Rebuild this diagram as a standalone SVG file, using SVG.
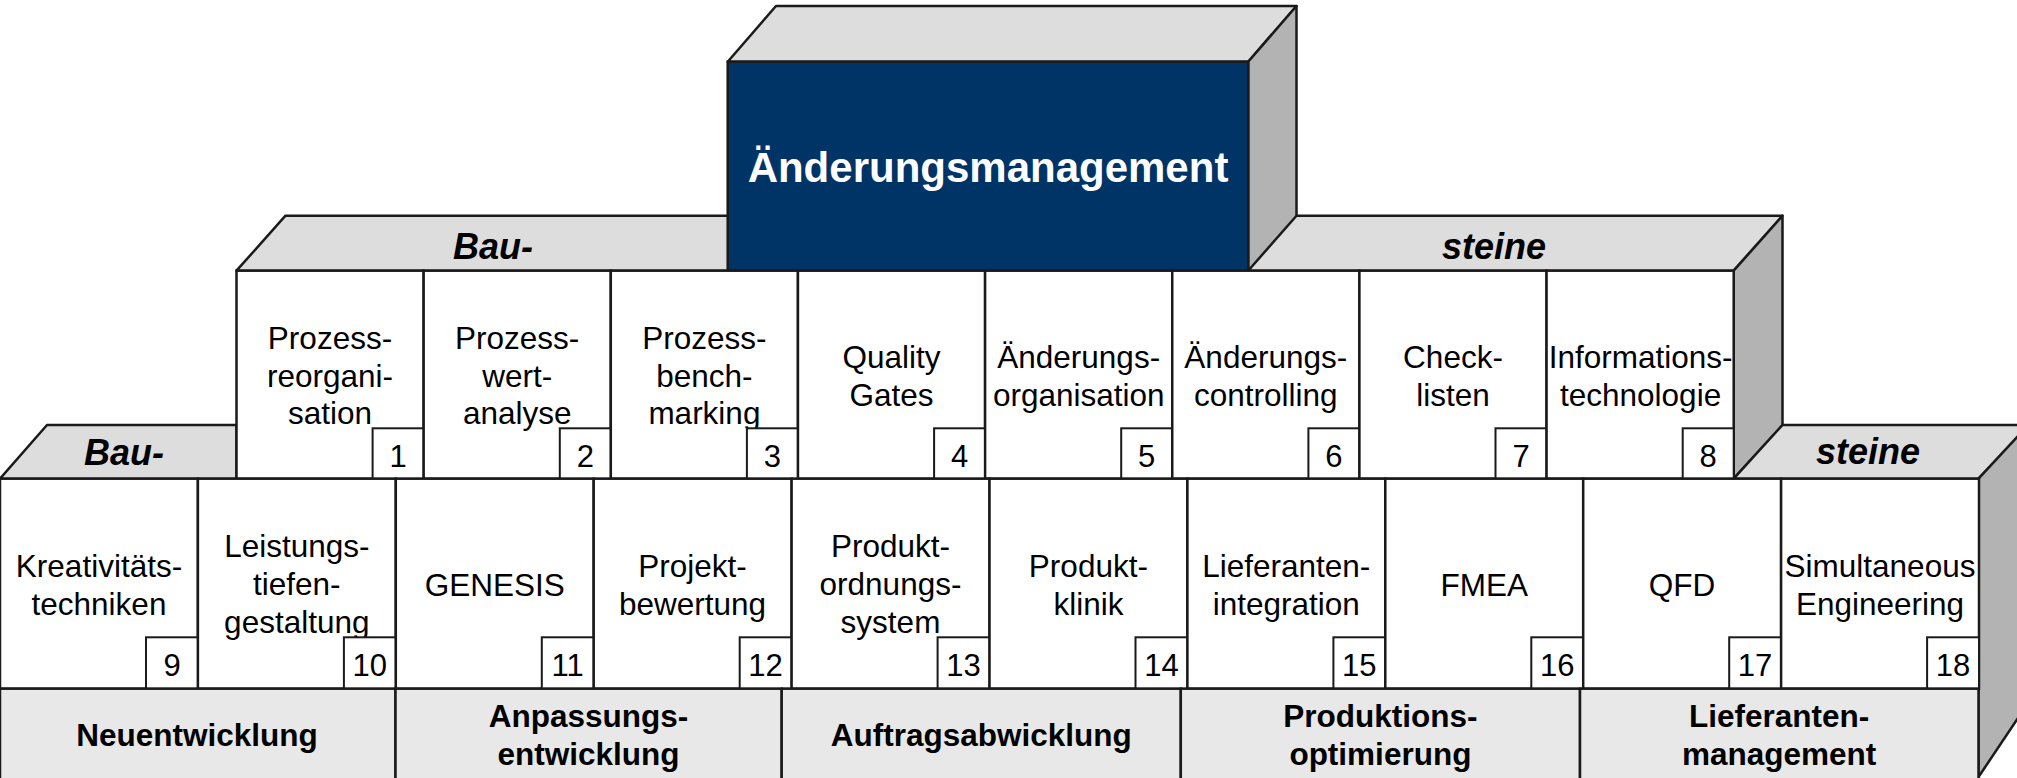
<svg xmlns="http://www.w3.org/2000/svg" width="2017" height="778" viewBox="0 0 2017 778">
<style>
.top{fill:#dddddd;stroke:#1a1a1a;stroke-width:2.5;stroke-linejoin:round}
.side{fill:#b3b3b3;stroke:#1a1a1a;stroke-width:2.5;stroke-linejoin:round}
.cell{fill:#ffffff;stroke:#1a1a1a;stroke-width:2.5}
.num{fill:#ffffff;stroke:#1a1a1a;stroke-width:2}
.base{fill:#e8e8e8;stroke:#1a1a1a;stroke-width:2.5}
.t{font-family:"Liberation Sans",Arial,sans-serif;font-size:31.5px;fill:#000;text-anchor:middle}
.n{font-family:"Liberation Sans",Arial,sans-serif;font-size:31px;fill:#000;text-anchor:middle}
.b{font-family:"Liberation Sans",Arial,sans-serif;font-size:31.5px;font-weight:bold;fill:#000;text-anchor:middle}
.bi{font-family:"Liberation Sans",Arial,sans-serif;font-size:36px;font-weight:bold;font-style:italic;fill:#000;text-anchor:middle}
.hd{font-family:"Liberation Sans",Arial,sans-serif;font-size:42px;font-weight:bold;fill:#ffffff;text-anchor:middle}
</style>

<!-- faces -->
<g id="faces">
  <polygon class="top" points="236.5,270.7 285.5,215.7 1782.5,215.7 1733.7,270.7"/>
  <polygon class="side" points="1733.7,270.7 1782.5,215.7 1782.5,425 1733.7,478.7"/>
  <polygon class="top" points="0,478.7 47,425 236.5,425 236.5,478.7"/>
  <polygon class="top" points="1733.7,478.7 1782.5,425 2030,425 1978.5,478.7"/>
  <polygon class="side" points="1978.5,478.7 2030,423 2030,700 1978.5,777"/>
  <text class="bi" x="493" y="259">Bau-</text>
  <text class="bi" x="1494" y="259">steine</text>
  <text class="bi" x="124" y="465">Bau-</text>
  <text class="bi" x="1868" y="464">steine</text>
</g>

<!-- top block -->
<g id="aenderungsmanagement">
  <polygon class="top" points="727.7,61.7 776,6 1296.5,6 1248.2,61.7"/>
  <polygon class="side" points="1248.2,61.7 1296.5,6 1296.5,215.7 1248.2,270.7"/>
  <rect x="727.7" y="61.7" width="520.5" height="209" fill="#003366" stroke="#1a1a1a" stroke-width="2.5"/>
  <text class="hd" x="988" y="182.3">Änderungsmanagement</text>
</g>

<!-- row 1 -->
<g id="b1"><rect class="cell" x="236.5" y="270.7" width="187.15" height="208"/>
  <text class="t" x="330" y="348.5">Prozess-</text><text class="t" x="330" y="386.5">reorgani-</text><text class="t" x="330" y="424">sation</text>
  <rect class="num" x="372.6" y="428.3" width="51" height="50.4"/><text class="n" x="398.1" y="467">1</text></g>
<g id="b2"><rect class="cell" x="423.65" y="270.7" width="187.15" height="208"/>
  <text class="t" x="517.2" y="348.5">Prozess-</text><text class="t" x="517.2" y="386.5">wert-</text><text class="t" x="517.2" y="424">analyse</text>
  <rect class="num" x="559.8" y="428.3" width="51" height="50.4"/><text class="n" x="585.3" y="467">2</text></g>
<g id="b3"><rect class="cell" x="610.8" y="270.7" width="187.15" height="208"/>
  <text class="t" x="704.4" y="348.5">Prozess-</text><text class="t" x="704.4" y="386.5">bench-</text><text class="t" x="704.4" y="424">marking</text>
  <rect class="num" x="746.9" y="428.3" width="51" height="50.4"/><text class="n" x="772.4" y="467">3</text></g>
<g id="b4"><rect class="cell" x="797.95" y="270.7" width="187.15" height="208"/>
  <text class="t" x="891.5" y="367.5">Quality</text><text class="t" x="891.5" y="405.5">Gates</text>
  <rect class="num" x="934.1" y="428.3" width="51" height="50.4"/><text class="n" x="959.6" y="467">4</text></g>
<g id="b5"><rect class="cell" x="985.1" y="270.7" width="187.15" height="208"/>
  <text class="t" x="1078.7" y="367.5">Änderungs-</text><text class="t" x="1078.7" y="405.5">organisation</text>
  <rect class="num" x="1121.2" y="428.3" width="51" height="50.4"/><text class="n" x="1146.7" y="467">5</text></g>
<g id="b6"><rect class="cell" x="1172.25" y="270.7" width="187.15" height="208"/>
  <text class="t" x="1265.8" y="367.5">Änderungs-</text><text class="t" x="1265.8" y="405.5">controlling</text>
  <rect class="num" x="1308.4" y="428.3" width="51" height="50.4"/><text class="n" x="1333.9" y="467">6</text></g>
<g id="b7"><rect class="cell" x="1359.4" y="270.7" width="187.15" height="208"/>
  <text class="t" x="1453" y="367.5">Check-</text><text class="t" x="1453" y="405.5">listen</text>
  <rect class="num" x="1495.5" y="428.3" width="51" height="50.4"/><text class="n" x="1521" y="467">7</text></g>
<g id="b8"><rect class="cell" x="1546.55" y="270.7" width="187.15" height="208"/>
  <text class="t" x="1640.6" y="367.5">Informations-</text><text class="t" x="1640.6" y="405.5">technologie</text>
  <rect class="num" x="1682.7" y="428.3" width="51" height="50.4"/><text class="n" x="1708.2" y="467">8</text></g>

<!-- row 2 -->
<g id="b9"><rect class="cell" x="0" y="478.7" width="197.9" height="210"/>
  <text class="t" x="99" y="577">Kreativitäts-</text><text class="t" x="99" y="615">techniken</text>
  <rect class="num" x="146" y="637.3" width="51.9" height="51.4"/><text class="n" x="172" y="676">9</text></g>
<g id="b10"><rect class="cell" x="197.9" y="478.7" width="197.9" height="210"/>
  <text class="t" x="296.8" y="557">Leistungs-</text><text class="t" x="296.8" y="595">tiefen-</text><text class="t" x="296.8" y="633">gestaltung</text>
  <rect class="num" x="343.9" y="637.3" width="51.9" height="51.4"/><text class="n" x="369.8" y="676">10</text></g>
<g id="b11"><rect class="cell" x="395.8" y="478.7" width="197.9" height="210"/>
  <text class="t" x="494.7" y="596">GENESIS</text>
  <rect class="num" x="541.8" y="637.3" width="51.9" height="51.4"/><text class="n" x="567.7" y="676">11</text></g>
<g id="b12"><rect class="cell" x="593.7" y="478.7" width="197.9" height="210"/>
  <text class="t" x="692.6" y="577">Projekt-</text><text class="t" x="692.6" y="615">bewertung</text>
  <rect class="num" x="739.7" y="637.3" width="51.9" height="51.4"/><text class="n" x="765.6" y="676">12</text></g>
<g id="b13"><rect class="cell" x="791.6" y="478.7" width="197.9" height="210"/>
  <text class="t" x="890.5" y="557">Produkt-</text><text class="t" x="890.5" y="595">ordnungs-</text><text class="t" x="890.5" y="633">system</text>
  <rect class="num" x="937.6" y="637.3" width="51.9" height="51.4"/><text class="n" x="963.5" y="676">13</text></g>
<g id="b14"><rect class="cell" x="989.5" y="478.7" width="197.9" height="210"/>
  <text class="t" x="1088.4" y="577">Produkt-</text><text class="t" x="1088.4" y="615">klinik</text>
  <rect class="num" x="1135.5" y="637.3" width="51.9" height="51.4"/><text class="n" x="1161.4" y="676">14</text></g>
<g id="b15"><rect class="cell" x="1187.4" y="478.7" width="197.9" height="210"/>
  <text class="t" x="1286.3" y="577">Lieferanten-</text><text class="t" x="1286.3" y="615">integration</text>
  <rect class="num" x="1333.4" y="637.3" width="51.9" height="51.4"/><text class="n" x="1359.3" y="676">15</text></g>
<g id="b16"><rect class="cell" x="1385.3" y="478.7" width="197.9" height="210"/>
  <text class="t" x="1484.2" y="596">FMEA</text>
  <rect class="num" x="1531.3" y="637.3" width="51.9" height="51.4"/><text class="n" x="1557.2" y="676">16</text></g>
<g id="b17"><rect class="cell" x="1583.2" y="478.7" width="197.9" height="210"/>
  <text class="t" x="1682.1" y="596">QFD</text>
  <rect class="num" x="1729.2" y="637.3" width="51.9" height="51.4"/><text class="n" x="1755.1" y="676">17</text></g>
<g id="b18"><rect class="cell" x="1781.1" y="478.7" width="197.9" height="210"/>
  <text class="t" x="1880" y="577">Simultaneous</text><text class="t" x="1880" y="615">Engineering</text>
  <rect class="num" x="1927.1" y="637.3" width="51.9" height="51.4"/><text class="n" x="1953" y="676">18</text></g>

<!-- base -->
<g id="neuentwicklung"><rect class="base" x="0" y="688.7" width="395.5" height="92"/>
  <text class="b" x="197" y="746">Neuentwicklung</text></g>
<g id="anpassungsentwicklung"><rect class="base" x="395.5" y="688.7" width="386.2" height="92"/>
  <text class="b" x="588.6" y="727">Anpassungs-</text><text class="b" x="588.6" y="765">entwicklung</text></g>
<g id="auftragsabwicklung"><rect class="base" x="781.7" y="688.7" width="399.1" height="92"/>
  <text class="b" x="981.2" y="746">Auftragsabwicklung</text></g>
<g id="produktionsoptimierung"><rect class="base" x="1180.8" y="688.7" width="399.2" height="92"/>
  <text class="b" x="1380.4" y="727">Produktions-</text><text class="b" x="1380.4" y="765">optimierung</text></g>
<g id="lieferantenmanagement"><rect class="base" x="1580" y="688.7" width="398.5" height="92"/>
  <text class="b" x="1779.2" y="727">Lieferanten-</text><text class="b" x="1779.2" y="765">management</text></g>
</svg>
